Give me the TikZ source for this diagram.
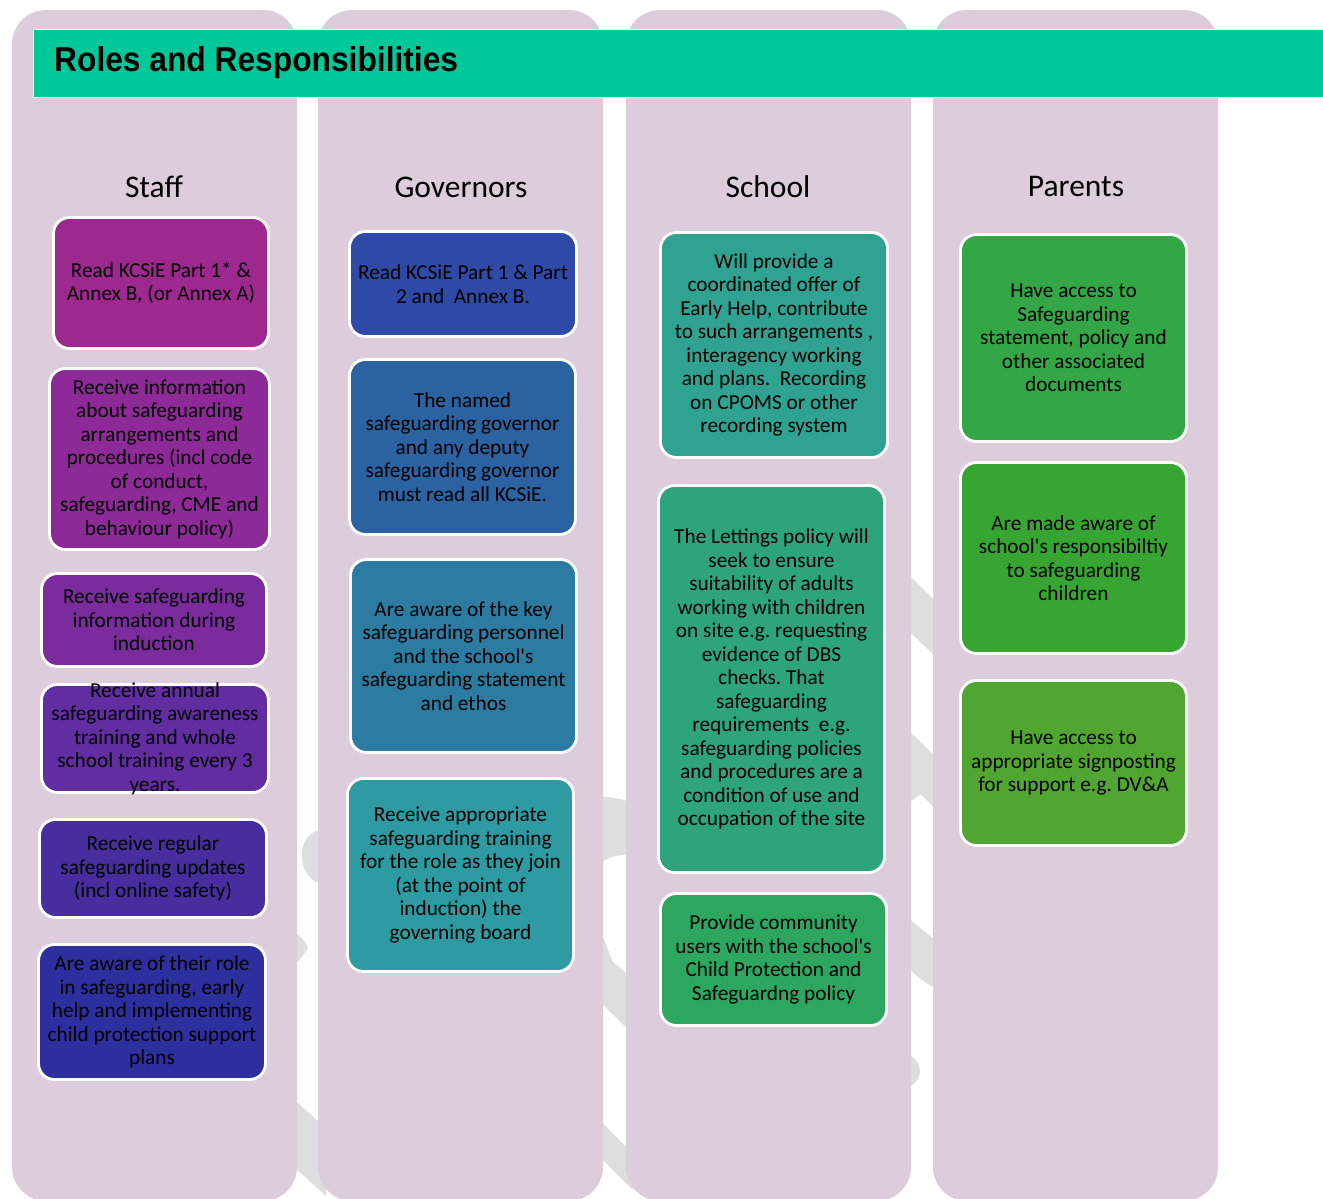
\documentclass[tikz,border=0pt]{standalone}
\usepackage{fontspec}
\usepackage{graphicx}
\setmainfont{Carlito}
\newfontfamily\bodyfont{Carlito}
\newfontfamily\titlefont{Liberation Sans}
\definecolor{colbg}{RGB}{221,204,219}
\definecolor{wmgray}{RGB}{222,222,222}
\definecolor{titlegreen}{RGB}{0,200,152}
\definecolor{sA}{RGB}{157,41,143}
\definecolor{sB}{RGB}{142,42,151}
\definecolor{sC}{RGB}{122,44,156}
\definecolor{sD}{RGB}{97,45,160}
\definecolor{sE}{RGB}{71,45,158}
\definecolor{sF}{RGB}{45,47,158}
\definecolor{gA}{RGB}{46,74,166}
\definecolor{gB}{RGB}{42,98,162}
\definecolor{gC}{RGB}{43,124,160}
\definecolor{gD}{RGB}{46,154,161}
\definecolor{cA}{RGB}{47,162,145}
\definecolor{cB}{RGB}{45,164,124}
\definecolor{cC}{RGB}{45,166,96}
\definecolor{pA}{RGB}{51,166,70}
\definecolor{pB}{RGB}{55,165,50}
\definecolor{pC}{RGB}{80,166,48}
\begin{document}
\frenchspacing
\begin{tikzpicture}[x=1pt,y=-1pt,
  colshape/.style={fill=colbg, rounded corners=34pt},
  wm/.style={fill=wmgray},
  rolebox/.style={draw=white, line width=2.8pt, rounded corners=16pt, inner sep=0pt},
  boxtext/.style={align=center, inner sep=0pt, text=black, font=\bodyfont\fontsize{21.3}{23.5}\selectfont\frenchspacing},
  head/.style={inner sep=0pt, font=\bodyfont\fontsize{31.5}{36}\selectfont}]
\useasboundingbox (0,0) rectangle (1323,1199);
% watermark behind the columns
\fill[wm] (326,830) -- (316,831) .. controls (298,838) and (296,870) .. (316,882) -- (326,884) -- cycle;
\fill[wm] (290,934) -- (298,935) .. controls (304,940) .. (308,948) .. controls (304,954) .. (298,962) -- (290,963) -- cycle;
\fill[wm] (290,1096) -- (326,1128) -- (326,1196) -- (290,1163) -- cycle;
\fill[wm] (596,797) .. controls (610,796) and (622,799) .. (633,803) -- (633,855) .. controls (620,853) and (608,857) .. (596,866) -- cycle;
\fill[wm] (596,920) -- (613,962) -- (633,979) -- (633,1034) -- (596,998) -- cycle;
\fill[wm] (596,1116) -- (633,1154) -- (633,1190) -- (596,1153) -- cycle;
\fill[wm] (904,570) -- (940,606) -- (940,661) -- (904,626) -- cycle;
\fill[wm] (904,726) -- (940,761) -- (940,814) -- (921,794) -- (904,806) -- cycle;
\fill[wm] (904,915) .. controls (918,926) .. (940,944) -- (940,990) .. controls (925,983) .. (904,965) -- cycle;
\fill[wm] (904,1054) -- (911,1056) .. controls (922,1062) and (924,1078) .. (911,1086) -- (904,1087) -- cycle;
% columns
\fill[colshape] (12,10) rectangle (297,1201);
\fill[colshape] (318,10) rectangle (603,1201);
\fill[colshape] (626,10) rectangle (911,1201);
\fill[colshape] (933,10) rectangle (1218,1201);
% title bar
\fill[titlegreen, draw=white!88!gray, line width=1pt] (33,30) rectangle (1330,97);
\node[anchor=base west, inner sep=0pt, font=\titlefont\bfseries\fontsize{34.5}{40}\selectfont] (title) at (54,71) {\scalebox{0.92}[1]{Roles and Responsibilities}};
% headers
\node[head] (hstaff) at (154,187) {Staff};
\node[head] (hgov) at (461,187) {Governors};
\node[head] (hschool) at (768,187) {School};
\node[head] (hparents) at (1076,187) {Parents};
% staff
\node[rolebox, fill=sA, minimum width=215pt, minimum height=131pt] (s1) at (161,283) {};
\node[boxtext] (s1t) at (s1.center) {Read KCSiE Part 1* \&\\Annex B, (or Annex A)};
\node[rolebox, fill=sB, minimum width=220pt, minimum height=181pt] (s2) at (159.5,459) {};
\node[boxtext] (s2t) at (s2.center) {Receive information\\about safeguarding\\arrangements and\\procedures (incl code\\of conduct,\\safeguarding, CME and\\behaviour policy)};
\node[rolebox, fill=sC, minimum width=225pt, minimum height=93pt] (s3) at (154,620) {};
\node[boxtext] (s3t) at (s3.center) {Receive safeguarding\\information during\\induction};
\node[rolebox, fill=sD, minimum width=227pt, minimum height=108pt] (s4) at (155,738.5) {};
\node[boxtext] (s4t) at (s4.center) {Receive annual\\safeguarding awareness\\training and whole\\school training every 3\\years.};
\node[rolebox, fill=sE, minimum width=227pt, minimum height=98pt] (s5) at (153,868.5) {};
\node[boxtext] (s5t) at (s5.center) {Receive regular\\safeguarding updates\\(incl online safety)};
\node[rolebox, fill=sF, minimum width=227pt, minimum height=135pt] (s6) at (152,1012) {};
\node[boxtext] (s6t) at (s6.center) {Are aware of their role\\in safeguarding, early\\help and implementing\\child protection support\\plans};
% governors
\node[rolebox, fill=gA, minimum width=227pt, minimum height=105pt] (g1) at (463,284) {};
\node[boxtext] (g1t) at (g1.center) {Read KCSiE Part 1 \& Part\\2 and\ \ Annex B.};
\node[rolebox, fill=gB, minimum width=226pt, minimum height=175pt] (g2) at (462.5,447) {};
\node[boxtext] (g2t) at (g2.center) {The named\\safeguarding governor\\and any deputy\\safeguarding governor\\must read all KCSiE.};
\node[rolebox, fill=gC, minimum width=226pt, minimum height=193pt] (g3) at (463.5,656) {};
\node[boxtext] (g3t) at (g3.center) {Are aware of the key\\safeguarding personnel\\and the school's\\safeguarding statement\\and ethos};
\node[rolebox, fill=gD, minimum width=226pt, minimum height=193pt] (g4) at (460.5,875) {};
\node[boxtext] (g4t) at (g4.center) {Receive appropriate\\safeguarding training\\for the role as they join\\(at the point of\\induction) the\\governing board};
% school
\node[rolebox, fill=cA, minimum width=227pt, minimum height=225pt] (c1) at (774,345) {};
\node[boxtext] (c1t) at (c1.center) {Will provide a\\coordinated offer of\\Early Help, contribute\\to such arrangements ,\\interagency working\\and plans.\ \ Recording\\on CPOMS or other\\recording system};
\node[rolebox, fill=cB, minimum width=226pt, minimum height=387pt] (c2) at (771.5,679) {};
\node[boxtext] (c2t) at (c2.center) {The Lettings policy will\\seek to ensure\\suitability of adults\\working with children\\on site e.g. requesting\\evidence of DBS\\checks. That\\safeguarding\\requirements\ \ e.g.\\safeguarding policies\\and procedures are a\\condition of use and\\occupation of the site};
\node[rolebox, fill=cC, minimum width=226pt, minimum height=132pt] (c3) at (773.5,959.5) {};
\node[boxtext] (c3t) at (c3.center) {Provide community\\users with the school's\\Child Protection and\\Safeguardng policy};
% parents
\node[rolebox, fill=pA, minimum width=226pt, minimum height=207pt] (p1) at (1073.5,338) {};
\node[boxtext] (p1t) at (p1.center) {Have access to\\Safeguarding\\statement, policy and\\other associated\\documents};
\node[rolebox, fill=pB, minimum width=226pt, minimum height=191pt] (p2) at (1073.5,558) {};
\node[boxtext] (p2t) at (p2.center) {Are made aware of\\school's responsibiltiy\\to safeguarding\\children};
\node[rolebox, fill=pC, minimum width=226pt, minimum height=165pt] (p3) at (1073.5,763) {};
\node[boxtext] (p3t) at (p3.center) {Have access to\\appropriate signposting\\for support e.g. DV\&A};
\end{tikzpicture}
\end{document}
